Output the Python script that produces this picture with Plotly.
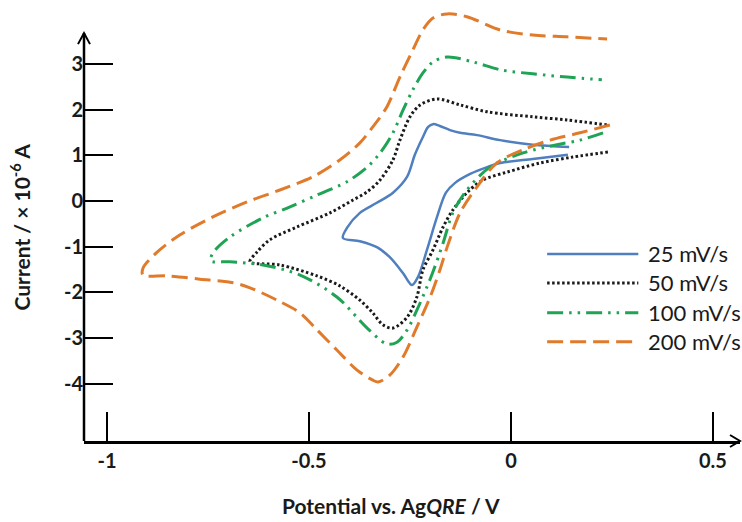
import plotly.graph_objects as go

# ---------------- data ----------------
series_names = ["25 mV/s", "50 mV/s", "100 mV/s", "200 mV/s"]

# 25 mV/s : lower branch (right -> left) then upper branch (left -> right)
v25 = [0.141, 0.054, -0.027, -0.059, -0.101, -0.139, -0.161, -0.183, -0.208, -0.230,
       -0.245, -0.267, -0.300, -0.332, -0.374, -0.416,
       -0.406, -0.374, -0.332, -0.292, -0.257, -0.238, -0.218, -0.205, -0.193, -0.176,
       -0.151, -0.126, -0.084, -0.027, 0.054, 0.144]
i25 = [1.01, 0.92, 0.83, 0.74, 0.59, 0.39, 0.18, -0.35, -1.07, -1.66,
       -1.84, -1.58, -1.23, -1.01, -0.88, -0.81,
       -0.59, -0.26, -0.04, 0.18, 0.53, 1.01, 1.40, 1.62, 1.68, 1.64,
       1.55, 1.49, 1.44, 1.33, 1.23, 1.18]

# 50 mV/s
v50 = [0.240, 0.153, 0.072, -0.010, -0.069, -0.109, -0.144, -0.168, -0.193, -0.218,
       -0.233, -0.257, -0.292, -0.317, -0.342, -0.374, -0.423, -0.480, -0.572, -0.646,
       -0.629, -0.597, -0.530, -0.448, -0.391, -0.356, -0.324, -0.292, -0.275, -0.250,
       -0.225, -0.183, -0.126, -0.059, 0.054, 0.139, 0.240]
i50 = [1.07, 0.96, 0.83, 0.63, 0.46, 0.18, -0.20, -0.57, -1.07, -1.51,
       -2.10, -2.54, -2.78, -2.71, -2.45, -2.17, -1.86, -1.64, -1.40, -1.33,
       -1.12, -0.85, -0.57, -0.26, 0.02, 0.20, 0.46, 0.90, 1.33, 1.84,
       2.10, 2.23, 2.10, 1.95, 1.84, 1.77, 1.66]

# 100 mV/s
v100 = [0.228, 0.171, 0.114, 0.030, -0.052, -0.109, -0.144, -0.168, -0.193, -0.208,
        -0.233, -0.257, -0.282, -0.307, -0.356, -0.431, -0.522, -0.614, -0.696, -0.743,
        -0.738, -0.696, -0.614, -0.547, -0.480, -0.406, -0.356, -0.324, -0.292, -0.267,
        -0.243, -0.218, -0.193, -0.158, -0.094, -0.027, 0.054, 0.139, 0.225]
i100 = [1.49, 1.33, 1.23, 1.05, 0.74, 0.24, -0.26, -0.92, -1.55, -1.88,
        -2.39, -2.82, -3.09, -3.13, -2.78, -2.10, -1.62, -1.40, -1.33, -1.31,
        -1.14, -0.79, -0.37, -0.13, 0.13, 0.42, 0.74, 1.05, 1.49, 1.99,
        2.43, 2.80, 3.04, 3.15, 3.04, 2.87, 2.78, 2.71, 2.65]

# 200 mV/s
v200 = [0.245, 0.171, 0.097, 0.030, -0.035, -0.084, -0.126, -0.158, -0.176, -0.200,
        -0.233, -0.267, -0.300, -0.329, -0.342, -0.381, -0.431, -0.480, -0.522, -0.579,
        -0.646, -0.688, -0.770, -0.851, -0.911,
        -0.911, -0.876, -0.819, -0.738, -0.653, -0.572, -0.490, -0.423, -0.374, -0.342,
        -0.307, -0.275, -0.243, -0.218, -0.193, -0.158, -0.109, -0.027, 0.054, 0.139, 0.238]
i200 = [1.66, 1.49, 1.33, 1.12, 0.83, 0.31, -0.26, -1.01, -1.51, -2.10,
        -2.76, -3.41, -3.81, -3.96, -3.92, -3.70, -3.26, -2.82, -2.45, -2.17,
        -1.90, -1.79, -1.71, -1.64, -1.62,
        -1.47, -1.12, -0.74, -0.35, -0.02, 0.24, 0.53, 0.90, 1.27, 1.62,
        2.06, 2.71, 3.30, 3.74, 4.00, 4.09, 4.03, 3.74, 3.63, 3.59, 3.54]

x_tickvals = [-1, -0.5, 0, 0.5]
x_ticktext = ["-1", "-0.5", "0", "0.5"]
y_tickvals = [-4, -3, -2, -1, 0, 1, 2, 3]
y_ticktext = ["-4", "-3", "-2", "-1", "0", "1", "2", "3"]

# ---------------- styles ----------------
colors = ["#4f7fbf", "#1a1a1a", "#1fa354", "#e07b2c"]
dashes = ["solid", "2.5px,2.5px", "16px,6px,2.5px,6px,2.5px,6px", "16px,7px"]
widths = [2.5, 3, 3, 3]
FONT = "Lato"

fig = go.Figure()
for name, v, i, c, d, w in zip(series_names, [v25, v50, v100, v200],
                               [i25, i50, i100, i200], colors, dashes, widths):
    fig.add_trace(go.Scatter(x=v, y=i, mode="lines", name=name,
                             line=dict(color=c, dash=d, width=w,
                                       shape="spline", smoothing=0.9),
                             showlegend=False))

fig.update_layout(
    width=742, height=522,
    margin=dict(l=84, r=2, t=8, b=81),
    paper_bgcolor="white", plot_bgcolor="white",
    font=dict(family=FONT, color="#1a1a1a"),
    xaxis=dict(range=[-1.057, 0.567], tickvals=x_tickvals, ticktext=x_ticktext,
               ticks="inside", ticklen=29, tickwidth=2, tickcolor="black",
               showline=True, linecolor="black", linewidth=2.5,
               showgrid=False, zeroline=False,
               tickfont=dict(size=20, weight="bold", family=FONT, color="#1a1a1a")),
    yaxis=dict(range=[-5.25, 4.22], tickvals=y_tickvals, ticktext=y_ticktext,
               ticks="inside", ticklen=29, tickwidth=2, tickcolor="black",
               showline=False, showgrid=False, zeroline=False,
               tickfont=dict(size=20, weight="bold", family=FONT, color="#1a1a1a")),
)

shapes = []
# y-axis line with open arrowhead
shapes.append(dict(type="line", xref="paper", yref="paper", x0=0, x1=0, y0=0, y1=0.942,
                   line=dict(color="black", width=2.5)))
shapes.append(dict(type="path", xref="paper", yref="paper", xsizemode="pixel", ysizemode="pixel",
                   xanchor=0, yanchor=0.942, path="M-6,-11 L0,0 L6,-11",
                   line=dict(color="black", width=2)))
# x-axis arrowhead
shapes.append(dict(type="path", xref="paper", yref="paper", xsizemode="pixel", ysizemode="pixel",
                   xanchor=1, yanchor=0, path="M-10,6 L0,0 L-10,-6",
                   line=dict(color="black", width=2)))

# manual legend
leg_y = [0.432, 0.365, 0.296, 0.229]
annotations = []
for name, c, d, w, y in zip(series_names, colors, dashes, widths, leg_y):
    shapes.append(dict(type="line", xref="paper", yref="paper", x0=0.706, x1=0.845, y0=y, y1=y,
                       line=dict(color=c, dash=d, width=w)))
    annotations.append(dict(text=name, xref="paper", yref="paper", x=0.857, y=y,
                            xanchor="left", yanchor="middle", showarrow=False,
                            font=dict(size=22, family=FONT, color="#1a1a1a")))

annotations.append(dict(text="<b>Potential vs. Ag<i>QRE</i> / V</b>", xref="paper", yref="paper",
                        x=0.468, y=-0.150, xanchor="center", yanchor="middle", showarrow=False,
                        font=dict(size=21, family=FONT, color="#1a1a1a")))
annotations.append(dict(text="<b>Current / × 10<sup>-6</sup> A</b>", xref="paper", yref="paper",
                        x=-0.097, y=0.494, xanchor="center", yanchor="middle", showarrow=False,
                        textangle=-90, font=dict(size=21, family=FONT, color="#1a1a1a")))

fig.update_layout(shapes=shapes, annotations=annotations)
fig.write_html("out.html")
